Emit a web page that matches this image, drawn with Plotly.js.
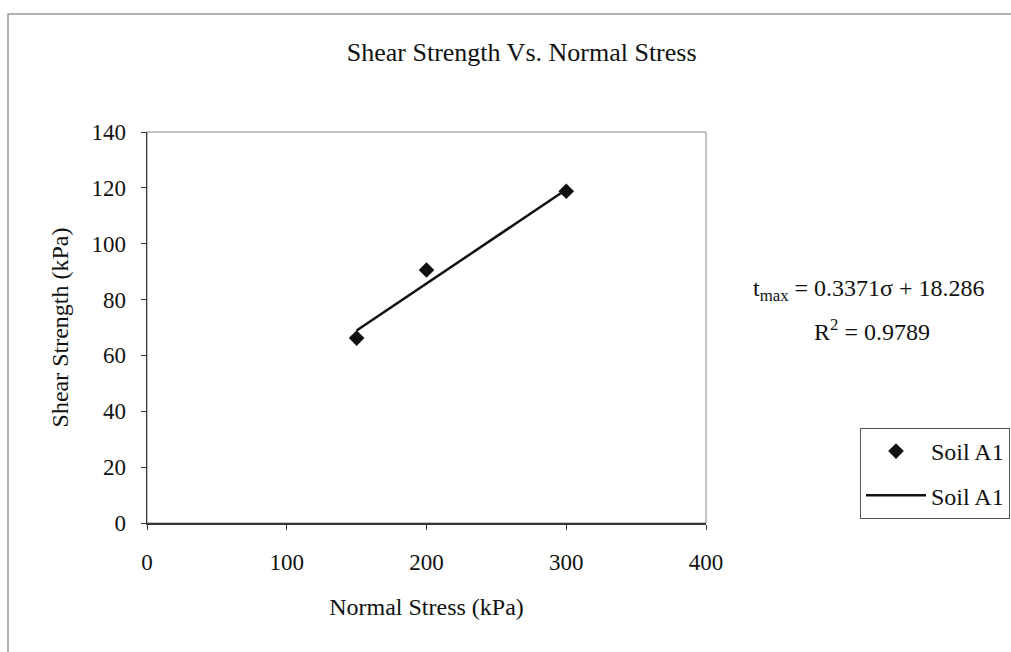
<!DOCTYPE html>
<html>
<head>
<meta charset="utf-8">
<script src="https://cdn.plot.ly/plotly-3.0.1.min.js"></script>
<style>html,body{margin:0;padding:0;background:#fff;}#chart{width:1011px;height:652px;}</style>
</head>
<body>
<div id="chart"></div>
<script>
// Data
const normalStress = [150, 200, 300];
const shearStrength = [66.2, 90.6, 118.8];
const trendX = [150, 300];
const trendY = [68.9, 119.4];
const seriesName = 'Soil A1';
const xTicks = [0, 100, 200, 300, 400];
const yTicks = [0, 20, 40, 60, 80, 100, 120, 140];
const equationText = 't<sub>max</sub> = 0.3371σ + 18.286';
const r2Text = 'R<sup>2</sup> = 0.9789';

const FONT = 'Liberation Serif, Times New Roman, serif';

const traces = [
  {x: normalStress, y: shearStrength, type: 'scatter', mode: 'markers', name: seriesName,
   legendgroup: 'a', marker: {symbol: 'diamond', size: 12, color: '#111'}},
  {x: trendX, y: trendY, type: 'scatter', mode: 'lines', name: seriesName,
   legendgroup: 'b', line: {color: '#111', width: 2.5}}
];

const axisCommon = {
  showgrid: false, zeroline: false, showline: true, linecolor: '#333', linewidth: 1.5,
  ticks: 'outside', ticklen: 5, tickcolor: '#333', tickwidth: 1,
  tickfont: {family: FONT, size: 23, color: '#111'}, fixedrange: true
};

const layout = {
  width: 1011, height: 652,
  paper_bgcolor: '#fff', plot_bgcolor: '#fff',
  font: {family: FONT, color: '#111'},
  margin: {l: 147, r: 305, t: 132, b: 129, autoexpand: false},
  title: {text: 'Shear Strength Vs. Normal Stress', font: {family: FONT, size: 26, color: '#111'},
          x: 0.516, xref: 'container', xanchor: 'center', y: 1 - 52/652, yref: 'container', yanchor: 'middle'},
  xaxis: Object.assign({}, axisCommon, {
    range: [0, 400], tickvals: xTicks, ticktext: xTicks.map(String), ticklabelstandoff: 13,
    title: {text: 'Normal Stress (kPa)', font: {family: FONT, size: 24, color: '#111'}, standoff: 24}
  }),
  yaxis: Object.assign({}, axisCommon, {
    range: [0, 140], tickvals: yTicks, ticktext: yTicks.map(String), ticklabelstandoff: 10,
    title: {text: 'Shear Strength (kPa)', font: {family: FONT, size: 24, color: '#111'}, standoff: 16}
  }),
  showlegend: true,
  legend: {x: 1.2755, y: 0.243, xanchor: 'left', yanchor: 'top', bgcolor: '#fff',
           bordercolor: '#555', borderwidth: 1, font: {family: FONT, size: 24, color: '#111'},
           tracegroupgap: 10, itemwidth: 60},
  annotations: [
    {text: equationText, xref: 'paper', yref: 'paper', x: 1.292, y: (523-290)/391, showarrow: false,
     xanchor: 'center', yanchor: 'middle', font: {family: FONT, size: 24, color: '#111'}},
    {text: r2Text, xref: 'paper', yref: 'paper', x: 1.297, y: (523-330)/391, showarrow: false,
     xanchor: 'center', yanchor: 'middle', font: {family: FONT, size: 24, color: '#111'}}
  ],
  shapes: [
    {type: 'rect', xref: 'paper', yref: 'paper', x0: 0, x1: 1, y0: 0, y1: 1,
     line: {color: '#888', width: 1}, layer: 'below'},
    {type: 'rect', xref: 'paper', yref: 'paper', x0: (8-147)/559, x1: 2, y0: -1, y1: (523-14)/391,
     line: {color: '#999', width: 1.5}, layer: 'below'}
  ]
};

Plotly.newPlot('chart', traces, layout, {displayModeBar: false, staticPlot: true});
</script>
</body>
</html>
